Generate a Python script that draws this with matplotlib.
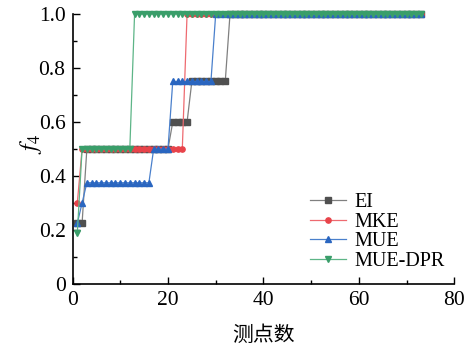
import matplotlib
matplotlib.use("Agg")
import matplotlib.pyplot as plt
from matplotlib.ticker import MultipleLocator, FuncFormatter

x = list(range(1, 74))

def steps(segs):
    out = []
    for val, n in segs:
        out += [val] * n
    return out

EI = steps([(0.225, 2), (0.5, 18), (0.6, 4), (0.75, 8), (1.0, 41)])
MKE = steps([(0.3, 1), (0.5, 22), (1.0, 50)])
MUE = steps([(0.225, 1), (0.3, 1), (0.375, 14), (0.5, 4), (0.75, 9), (1.0, 44)])
MUE_DPR = steps([(0.19, 1), (0.5, 11), (1.0, 61)])

series = [
    ("EI", EI, "#505050", "#808080", "s"),
    ("MKE", MKE, "#e8434a", "#ee6a70", "o"),
    ("MUE", MUE, "#2a66c0", "#4a80cc", "^"),
    ("MUE-DPR", MUE_DPR, "#3a9e6a", "#5db587", "v"),
]

plt.rcParams['font.family'] = ['Liberation Serif', 'Noto Sans CJK SC']
plt.rcParams['mathtext.fontset'] = 'stix'
fig = plt.figure(figsize=(4.65, 3.49), dpi=100)
ax = fig.add_axes([0.156, 0.186, 0.821, 0.774])

for name, ys, mc, lc, m in series:
    ax.plot(x, ys, color=lc, lw=0.9, marker=m, markersize=3.8,
            markerfacecolor=mc, markeredgecolor=mc, label=name, clip_on=False)

ax.set_xlim(0, 80)
ax.set_ylim(0, 1.0)
ax.xaxis.set_major_locator(MultipleLocator(20))
ax.xaxis.set_minor_locator(MultipleLocator(10))
ax.yaxis.set_major_locator(MultipleLocator(0.2))
ax.yaxis.set_minor_locator(MultipleLocator(0.1))
ax.yaxis.set_major_formatter(FuncFormatter(lambda v, p: "0" if abs(v) < 1e-9 else f"{v:.1f}"))
for s in ["top", "right"]:
    ax.spines[s].set_visible(False)
for s in ["left", "bottom"]:
    ax.spines[s].set_linewidth(1.2)
ax.tick_params(which="both", direction="in", labelsize=15.5, width=1.0)
ax.tick_params(which="major", length=5, pad=5)
ax.tick_params(which="minor", length=3)

ax.set_xlabel("测点数", fontsize=15, family=['Noto Sans CJK SC'], labelpad=10)
ax.set_ylabel("$f_4$", fontsize=17)
ax.yaxis.set_label_coords(-0.075, 0.52)

ax.legend(loc="lower right", frameon=False, fontsize=14.5, handlelength=1.8,
          handletextpad=0.4, labelspacing=0.02, borderaxespad=0.0,
          bbox_to_anchor=(0.995, 0.02))

fig.savefig("out.png", dpi=100)
